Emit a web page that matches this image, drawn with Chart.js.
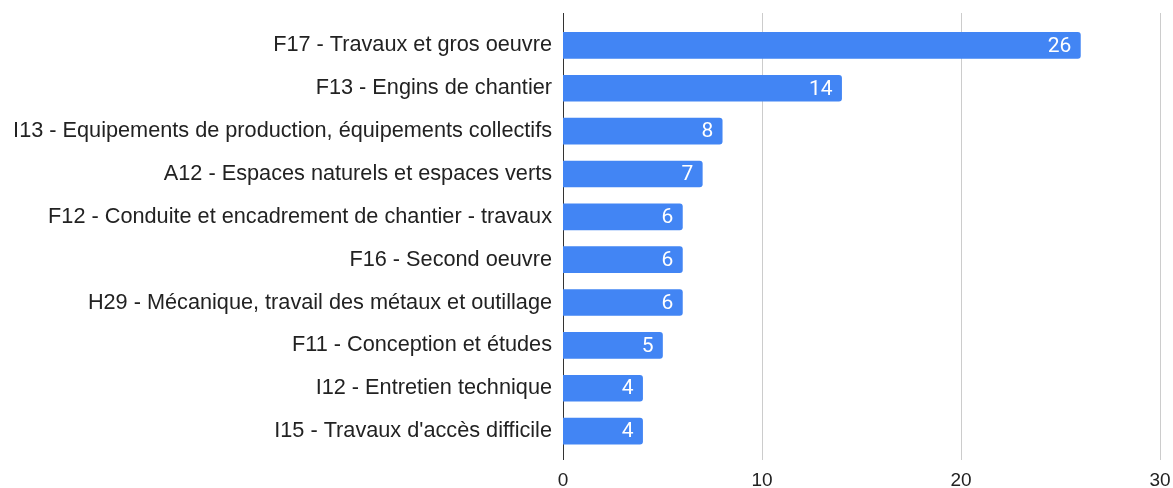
<!DOCTYPE html>
<html>
<head>
<meta charset="utf-8">
<script src="https://cdn.jsdelivr.net/npm/chart.js@4/dist/chart.umd.min.js"></script>
<style>
  html, body { margin: 0; padding: 0; background: #fff; overflow: hidden; }
  #wrap { width: 1173px; height: 500px; }
</style>
</head>
<body>
<div id="wrap"><canvas id="chart" width="1173" height="500"></canvas></div>
<script>
// data
const categories = [
  "F17 - Travaux et gros oeuvre",
  "F13 - Engins de chantier",
  "I13 - Equipements de production, équipements collectifs",
  "A12 - Espaces naturels et espaces verts",
  "F12 - Conduite et encadrement de chantier - travaux",
  "F16 - Second oeuvre",
  "H29 - Mécanique, travail des métaux et outillage",
  "F11 - Conception et études",
  "I12 - Entretien technique",
  "I15 - Travaux d'accès difficile"
];
const counts = [26, 14, 8, 7, 6, 6, 6, 5, 4, 4];
const xTicks = [0, 10, 20, 30];

// gridlines + axis line run a bit beyond the category band
const gridPlugin = {
  id: "grid",
  beforeDatasetsDraw(chart) {
    const ctx = chart.ctx;
    const x = chart.scales.x;
    const top = 13, bottom = 460;
    ctx.save();
    ctx.lineWidth = 1;
    ctx.strokeStyle = "#cccccc";
    xTicks.slice(1).forEach(v => {
      const px = Math.round(x.getPixelForValue(v)) + 0.5;
      ctx.beginPath(); ctx.moveTo(px, top); ctx.lineTo(px, bottom); ctx.stroke();
    });
    ctx.strokeStyle = "#333333";
    const px0 = Math.round(x.getPixelForValue(0)) + 0.5;
    ctx.beginPath(); ctx.moveTo(px0, top); ctx.lineTo(px0, bottom); ctx.stroke();
    ctx.restore();
  }
};

// value labels inside the bar ends
const valueLabels = {
  id: "valueLabels",
  afterDatasetsDraw(chart) {
    const ctx = chart.ctx;
    const meta = chart.getDatasetMeta(0);
    ctx.save();
    ctx.fillStyle = "#ffffff";
    ctx.font = "21px Roboto";
    ctx.textAlign = "right";
    ctx.textBaseline = "middle";
    meta.data.forEach((bar, i) => {
      ctx.fillText(String(counts[i]), bar.x - 9, bar.y + 1);
    });
    ctx.restore();
  }
};

new Chart(document.getElementById("chart"), {
  type: "bar",
  data: {
    labels: categories,
    datasets: [{
      data: counts,
      backgroundColor: "#4285f4",
      borderRadius: 3,
      borderSkipped: "start",
      barThickness: 26
    }]
  },
  options: {
    indexAxis: "y",
    responsive: false,
    animation: false,
    layout: { padding: { top: 21.5, right: 0, left: 0, bottom: 0 } },
    plugins: { legend: { display: false }, tooltip: { enabled: false } },
    scales: {
      x: {
        min: 0,
        max: 30,
        afterBuildTicks: s => { s.ticks = xTicks.map(v => ({ value: v })); },
        afterFit: s => { s.height = 47.5; s.paddingRight = 13; s.paddingLeft = 0; },
        grid: { display: false, drawTicks: false },
        border: { display: false },
        ticks: { color: "#222", font: { family: "Liberation Sans, Arial", size: 19 }, padding: 17, maxRotation: 0 }
      },
      y: {
        afterFit: s => { s.width = 563; },
        grid: { display: false, drawTicks: false },
        border: { display: false },
        ticks: { color: "#222", font: { family: "Liberation Sans, Arial", size: 21.7 }, padding: 11, autoSkip: false }
      }
    }
  },
  plugins: [gridPlugin, valueLabels]
});
</script>
</body>
</html>
